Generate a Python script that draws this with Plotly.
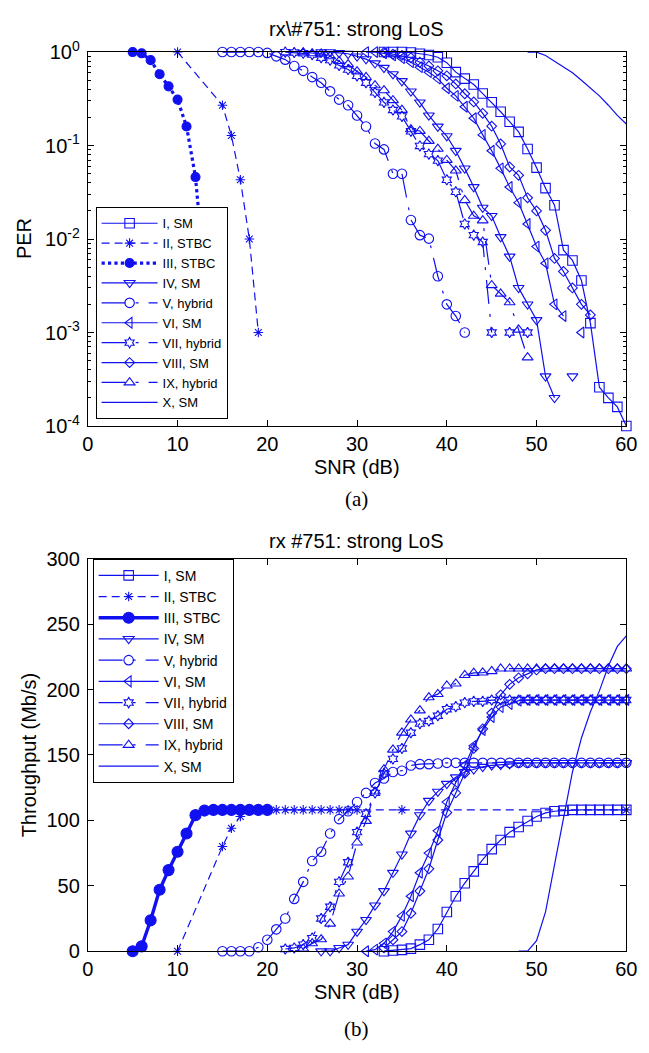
import plotly.graph_objects as go

BLUE = "#1010f0"

# ---------------- panel (a): PER ----------------
snr_a_I = list(range(33, 61))
per_I = [1.0, 1.0, 1.0, 0.99, 0.96, 0.93, 0.88, 0.77, 0.61, 0.52, 0.45, 0.36, 0.29, 0.23,
         0.18, 0.14, 0.092, 0.058, 0.035, 0.023, 0.0076, 0.0059, 0.0036, 0.00126, 0.00026,
         0.0002, 0.00016, 0.0001]
snr_a_II = [10, 15, 16, 17, 18, 19]
per_II = [1.0, 0.27, 0.128, 0.043, 0.01, 0.001]
snr_a_III = list(range(5, 14))
per_III = [1.0, 0.97, 0.82, 0.58, 0.43, 0.31, 0.16, 0.046, 0.004]
snr_a_IV = list(range(26, 55))
per_IV = [1.0, 1.0, 0.98, 0.96, 0.9, 0.84, 0.76, 0.68, 0.58, 0.49, 0.38, 0.29, 0.21, 0.16,
          0.126, 0.088, 0.057, 0.036, 0.0217, 0.0177, 0.0105, 0.0065, 0.003, 0.002, 0.00136,
          0.00034, 0.0002, None, 0.00034]
snr_a_V = list(range(15, 43))
per_V = [1.0, 1.0, 1.0, 1.0, 1.0, 0.98, 0.9, 0.83, 0.71, 0.63, 0.54, 0.47, 0.38, 0.31, 0.27,
         0.21, 0.16, 0.105, 0.091, 0.05, 0.05, 0.016, 0.011, 0.0101, 0.004, 0.002, 0.0015, 0.001]
snr_a_VI = list(range(31, 56))
per_VI = [1.0, 1.0, 0.97, 0.92, 0.86, 0.78, 0.69, 0.61, 0.52, 0.41, 0.34, 0.26, 0.196, 0.13,
          0.088, 0.057, 0.036, 0.0245, 0.0145, 0.0083, 0.0055, 0.002, 0.0015, None, 0.001]
snr_a_VII = list(range(22, 50))
per_VII = [1.0, 0.99, 0.97, 0.94, 0.87, 0.82, 0.72, 0.65, 0.557, 0.47, 0.37, 0.29, 0.24, 0.205,
           0.142, 0.099, 0.081, 0.069, 0.043, 0.032, 0.0145, 0.011, 0.0093, 0.001, None, 0.001,
           None, 0.001]
snr_a_VIII = list(range(33, 57))
per_VIII = [0.99, 0.95, 0.92, 0.87, 0.78, 0.71, 0.63, 0.557, 0.456, 0.358, 0.293, 0.221, 0.161,
            0.104, 0.059, 0.048, 0.0276, 0.02, 0.0124, 0.0062, 0.0045, 0.003, 0.002, 0.00154]
snr_a_IX = list(range(24, 50))
per_IX = [0.99, 0.97, 0.96, 0.9, 0.8, 0.74, 0.62, 0.54, 0.44, 0.39, 0.305, 0.24, 0.149, 0.143,
          0.112, 0.092, 0.07, 0.054, 0.026, 0.0177, 0.0158, 0.0032, 0.0026, 0.0021, 0.00107,
          0.00054]
snr_a_X = list(range(49, 61))
per_X = [1.0, 1.0, 0.92, 0.8, 0.69, 0.6, 0.5, 0.41, 0.34, 0.27, 0.21, 0.17]

# ---------------- panel (b): throughput (Mb/s) ----------------
snr_b_I = list(range(33, 61))
thr_I = [0, 0.5, 1, 2, 5, 8.7, 17, 30, 42, 52, 61, 70, 78, 85, 91, 95, 99.5, 103, 105.7, 107,
         107.5, 108, 108, 108, 108, 108, 108, 108]
snr_b_II = [10] + list(range(15, 31)) + [35, 60]
thr_II = [0, 80, 94, 103, 107] + [108] * 12 + [108, 108]
snr_b_III = list(range(5, 21))
thr_III = [0, 3.7, 23.6, 47, 62, 76, 90, 104, 107.5] + [108] * 7
snr_b_IV = list(range(26, 61))
thr_IV = [0, 0, 2.5, 5, 15, 24, 35, 46, 60, 74, 90, 104, 115, 122, 128, 133, 137, 139, 141,
          142, 142.5, 143] + [144] * 13
snr_b_V = list(range(15, 61))
thr_V = [0, 0, 0, 0, 3, 8.7, 16.7, 25, 40, 53, 69, 76, 90, 101, 107, 114, 121, 128.6, 132,
         137, 138, 142, 143, 143, 143.5] + [144] * 21
snr_b_VI = list(range(31, 61))
thr_VI = [0, 1.2, 6, 15, 27, 42, 60, 75, 92, 114, 129, 142, 157, 169, 179, 186.6, 189,
          191.5] + [192] * 12
snr_b_VII = list(range(22, 61))
thr_VII = [1.7, 2.5, 5, 10, 25, 34, 53, 68, 91, 105, 121, 136, 147, 155, 167, 174, 176, 180,
           185, 187, 190, 191, 191] + [192] * 16
snr_b_VIII = list(range(33, 61))
thr_VIII = [2.5, 8.7, 15, 29, 46, 63, 85, 106, 121, 136, 155, 170, 182, 196, 204, 209, 212,
            215] + [216] * 10
snr_b_IX = list(range(24, 61))
thr_IX = [2, 6, 9, 21, 44, 57, 83, 99.5, 122, 139, 154, 167, 177, 184, 194, 196.5, 203, 204.5,
          211, 212.7, 213, 214] + [216] * 15
snr_b_X = list(range(48, 61))
thr_X = [0, 0, 8, 30, 66, 103, 137, 163, 183, 199, 218, 233, 241]

names = ["I, SM", "II, STBC", "III, STBC", "IV, SM", "V, hybrid", "VI, SM",
         "VII, hybrid", "VIII, SM", "IX, hybrid", "X, SM"]

per_tickvals = [1, 0.1, 0.01, 0.001, 0.0001]
per_ticktext = ["10<sup>0</sup>", "10<sup>-1</sup>", "10<sup>-2</sup>",
                "10<sup>-3</sup>", "10<sup>-4</sup>"]

HYB = "24px,10px,3px,10px"
styles = [
    dict(symbol="square-open", size=9.5, dash="solid", width=1.2),
    dict(symbol="asterisk-open", size=8, dash="8px,5px", width=1.2),
    dict(symbol="circle", size=9, dash="dot", width=3.2),
    dict(symbol="triangle-down-open", size=9.5, dash="solid", width=1.2),
    dict(symbol="circle-open", size=9.5, dash=HYB, width=1.2),
    dict(symbol="triangle-left-open", size=9.5, dash="solid", width=1.2),
    dict(symbol="hexagram-open", size=8, dash=HYB, width=1.2),
    dict(symbol="diamond-open", size=7.5, dash="solid", width=1.2),
    dict(symbol="triangle-up-open", size=9.5, dash=HYB, width=1.2),
    dict(symbol=None, size=0, dash="solid", width=1.2),
]

top_data = [(snr_a_I, per_I), (snr_a_II, per_II), (snr_a_III, per_III), (snr_a_IV, per_IV),
            (snr_a_V, per_V), (snr_a_VI, per_VI), (snr_a_VII, per_VII),
            (snr_a_VIII, per_VIII), (snr_a_IX, per_IX), (snr_a_X, per_X)]
bot_data = [(snr_b_I, thr_I), (snr_b_II, thr_II), (snr_b_III, thr_III), (snr_b_IV, thr_IV),
            (snr_b_V, thr_V), (snr_b_VI, thr_VI), (snr_b_VII, thr_VII),
            (snr_b_VIII, thr_VIII), (snr_b_IX, thr_IX), (snr_b_X, thr_X)]

fig = go.Figure()


def add(xs, ys, st, name, xa, ya, leg, bottom=False):
    dash = st["dash"]
    width = st["width"]
    size = st["size"]
    if bottom and st["symbol"] == "circle":
        dash = "solid"
        width = 3.4
        size = 11
    mode = "lines+markers" if st["symbol"] else "lines"
    marker = dict(symbol=st["symbol"], size=size, color=BLUE,
                  line=dict(color=BLUE, width=1.1)) if st["symbol"] else None
    fig.add_trace(go.Scatter(
        x=xs, y=ys, name=name, mode=mode, xaxis=xa, yaxis=ya, legend=leg,
        line=dict(color=BLUE, width=width, dash=dash),
        marker=marker, cliponaxis=False, connectgaps=False))


for (xs, ys), st, nm in zip(top_data, styles, names):
    add(xs, ys, st, nm, "x", "y", "legend")
for (xs, ys), st, nm in zip(bot_data, styles, names):
    add(xs, ys, st, nm, "x2", "y2", "legend2", bottom=True)

W, H = 649, 1053
FONT = "Liberation Sans, Arial, sans-serif"


def px(x):
    return x / W


def py(y):
    return 1 - y / H


axis_common = dict(showline=True, linecolor="black", linewidth=1, mirror="allticks",
                   ticks="inside", ticklen=6, tickcolor="black", showgrid=False,
                   zeroline=False, tickfont=dict(family=FONT, size=20, color="black"))

fig.update_layout(
    width=W, height=H, margin=dict(l=0, r=0, t=0, b=0),
    paper_bgcolor="white", plot_bgcolor="white", showlegend=True,
    xaxis=dict(domain=[px(84), px(637)], range=[0, 60], dtick=10, anchor="y", **axis_common),
    yaxis=dict(domain=[py(422), py(39)], type="log", range=[-4, 0], anchor="x",
               tickmode="array", tickvals=per_tickvals, ticktext=per_ticktext,
               ticklabelstandoff=3,
               minor=dict(ticks="inside", ticklen=3, tickcolor="black", tickmode="array",
                          tickvals=[m * 10.0 ** e for e in range(-4, 0) for m in range(2, 10)]),
               **axis_common),
    xaxis2=dict(domain=[px(84), px(637)], range=[0, 60], dtick=10, anchor="y2", **axis_common),
    yaxis2=dict(domain=[py(960), py(558)], range=[0, 300], dtick=50, anchor="x2",
                ticklabelstandoff=3, **axis_common),
    legend=dict(x=px(92), y=py(198), xanchor="left", yanchor="top", bgcolor="white",
                bordercolor="black", borderwidth=1, itemwidth=56,
                font=dict(family=FONT, size=13, color="black"), tracegroupgap=0),
    legend2=dict(x=px(89), y=py(558), xanchor="left", yanchor="top", bgcolor="white",
                 bordercolor="black", borderwidth=1, itemwidth=60,
                 font=dict(family=FONT, size=14, color="black"), tracegroupgap=0),
)

ann = [
    ("rx\\#751: strong LoS", 360, 15, 0, FONT, 20),
    ("PER", 18, 230, -90, FONT, 20),
    ("SNR (dB)", 360, 464, 0, FONT, 20),
    ("(a)", 360, 497, 0, "Liberation Serif, Times New Roman, serif", 21),
    ("rx #751: strong LoS", 360, 540, 0, FONT, 20),
    ("Throughput (Mb/s)", 24, 759, -90, FONT, 20),
    ("SNR (dB)", 360, 1002, 0, FONT, 20),
    ("(b)", 360, 1040, 0, "Liberation Serif, Times New Roman, serif", 21),
]
for text, x, y, ang, fam, sz in ann:
    fig.add_annotation(text=text, x=px(x), y=py(y), xref="paper", yref="paper",
                       showarrow=False, textangle=ang, xanchor="center", yanchor="middle",
                       font=dict(family=fam, size=sz, color="black"))

fig.write_html("out.html", config={"displayModeBar": False},
               post_script="document.body.style.margin='0px';")
